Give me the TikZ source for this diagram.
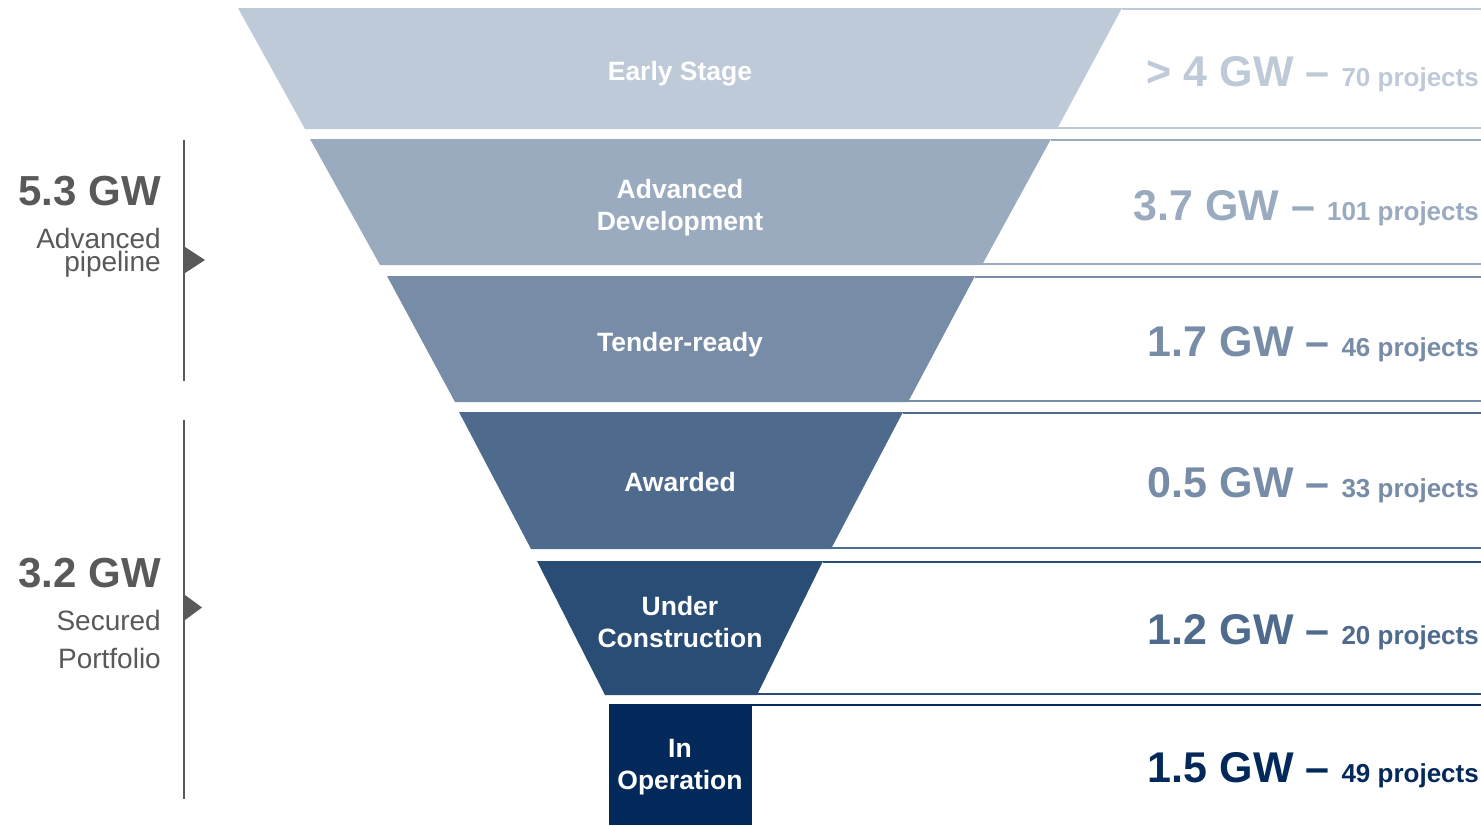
\documentclass[tikz,border=0pt]{standalone}
\usepackage{fontspec}
\setmainfont{Liberation Sans}
\definecolor{cA}{HTML}{BFCAD8}
\definecolor{cB}{HTML}{9AABC0}
\definecolor{cC}{HTML}{778CA6}
\definecolor{cD}{HTML}{4E6B8E}
\definecolor{cE}{HTML}{2A4D75}
\definecolor{cF}{HTML}{03295B}
\definecolor{gtxt}{HTML}{595959}
\tikzset{
  band/.style={draw=none},
  bandlabel/.style={text=white, align=center, font=\fontsize{26.5}{32}\selectfont\bfseries, inner sep=0pt},
  rowline/.style={line width=2pt},
  bignum/.style={anchor=base east, inner sep=0pt, font=\fontsize{43}{43}\selectfont\bfseries},
  sidebig/.style={anchor=base east, inner sep=0pt, text=gtxt, font=\fontsize{42}{42}\selectfont\bfseries},
  sidesmall/.style={anchor=base east, inner sep=0pt, text=gtxt, font=\fontsize{28}{28}\selectfont},
  bracket/.style={draw=gtxt, line width=2pt},
  marker/.style={fill=gtxt, draw=none}
}
\newcommand{\smallproj}[1]{{\fontsize{26}{26}\selectfont #1}}
\begin{document}
\begin{tikzpicture}[x=1pt,y=-1pt]
\useasboundingbox (0,0) rectangle (1481,825);
\fill[white] (0,0) rectangle (1481,825);

% bands
\fill[cA] (238,8) -- (1122,8) -- (1057,129) -- (305,129) -- cycle;
\fill[cB] (310,139) -- (1051,139) -- (982,265) -- (380,265) -- cycle;
\fill[cC] (387,276) -- (975,276) -- (908,402) -- (455,402) -- cycle;
\fill[cD] (459,412) -- (903,412) -- (831,549) -- (531,549) -- cycle;
\fill[cE] (537,561) -- (823,561) -- (757,695) -- (605,695) -- cycle;
\fill[cF] (609,704) rectangle (752,825);

% right lines
\coordinate (r1t) at (1122,9);  \coordinate (r1b) at (1057,128);
\coordinate (r2t) at (1051,140); \coordinate (r2b) at (982,264);
\coordinate (r3t) at (975,277); \coordinate (r3b) at (908,401);
\coordinate (r4t) at (903,413); \coordinate (r4b) at (831,548);
\coordinate (r5t) at (823,562); \coordinate (r5b) at (757,694);
\coordinate (r6t) at (752,705);
\draw[rowline, cA] (r1t) -- (1481,9);
\draw[rowline, cA] (r1b) -- (1481,128);
\draw[rowline, cB] (r2t) -- (1481,140);
\draw[rowline, cB] (r2b) -- (1481,264);
\draw[rowline, cC] (r3t) -- (1481,277);
\draw[rowline, cC] (r3b) -- (1481,401);
\draw[rowline, cD] (r4t) -- (1481,413);
\draw[rowline, cD] (r4b) -- (1481,548);
\draw[rowline, cE] (r5t) -- (1481,562);
\draw[rowline, cE] (r5b) -- (1481,694);
\draw[rowline, cF] (r6t) -- (1481,705);

% band labels
\node[bandlabel] (l1) at (680,74) {Early Stage};
\node[bandlabel] (l2) at (680,208) {Advanced\\Development};
\node[bandlabel] (l3) at (680,345) {Tender-ready};
\node[bandlabel] (l4) at (680,482) {Awarded};
\node[bandlabel] (l5) at (680,622) {Under\\Construction};
\node[bandlabel] (l6) at (680,767) {In\\Operation};

% right values
\node[bignum, text=cA] (v1) at (1479,86) {> 4 GW – \smallproj{70 projects}};
\node[bignum, text=cB] (v2) at (1479,220) {3.7 GW – \smallproj{101 projects}};
\node[bignum, text=cC] (v3) at (1479,356) {1.7 GW – \smallproj{46 projects}};
\node[bignum, text=cC] (v4) at (1479,497) {0.5 GW – \smallproj{33 projects}};
\node[bignum, text=cD] (v5) at (1479,644) {1.2 GW – \smallproj{20 projects}};
\node[bignum, text=cF] (v6) at (1479,782) {1.5 GW – \smallproj{49 projects}};

% left side
\node[sidebig] (s1) at (161,205) {5.3 GW};
\node[sidesmall] (s1a) at (161,248) {Advanced};
\node[sidesmall] (s1b) at (161,271) {pipeline};
\node[sidebig] (s2) at (161,587) {3.2 GW};
\node[sidesmall] (s2a) at (161,630) {Secured};
\node[sidesmall] (s2b) at (161,668) {Portfolio};

\coordinate (b1t) at (184,140); \coordinate (b1b) at (184,381);
\coordinate (b2t) at (184,420); \coordinate (b2b) at (184,799);
\draw[bracket] (b1t) -- (b1b);
\draw[bracket] (b2t) -- (b2b);
\fill[marker] (185,247) -- (205,260) -- (185,273) -- cycle;
\fill[marker] (185,595) -- (202,607.5) -- (185,620) -- cycle;
\end{tikzpicture}
\end{document}
